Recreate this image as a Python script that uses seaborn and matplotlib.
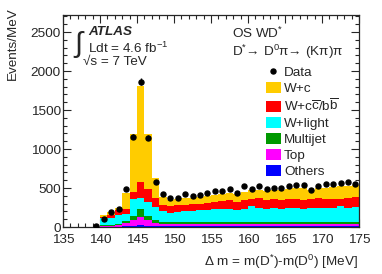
import numpy as np
import pandas as pd
import matplotlib
matplotlib.use("Agg")
import matplotlib.pyplot as plt
from matplotlib.patches import Patch
from matplotlib.lines import Line2D
import seaborn as sns

# bin edges: 1 MeV bins from 135 to 175
edges = list(range(135, 176))

# MC bins start at 140 MeV (140 ... 174)
mc_low = np.arange(140, 175, 1)

# stacked components (Events/MeV)
others   = [4, 5, 6, 10, 15, 26, 15, 12, 10, 10] + [10] * 25
top      = [11, 13, 16, 35, 75, 98, 75, 35, 28, 25] + [25] * 25
multijet = [10, 12, 18, 35, 51, 102, 51, 43, 30, 25] + [27] * 25
wlight   = [90, 90, 110, 85, 214, 141, 184, 171, 137, 124,
            135, 143, 147, 150, 156, 164, 163, 173, 158, 173,
            208, 183, 173, 188, 163, 188, 178, 173, 178, 183,
            178, 183, 208, 178, 198]
wccbb    = [13, 30, 65, 61, 98, 214, 158, 106, 77, 85,
            85, 80, 82, 83, 85, 99, 105, 105, 105, 115,
            90, 130, 115, 115, 120, 110, 115, 115, 115, 125,
            120, 120, 90, 130, 130]
wc       = [26, 47, 30, 206, 739, 1227, 709, 265, 107, 77,
            73, 82, 84, 85, 92, 85, 95, 100, 100, 105,
            110, 105, 110, 115, 125, 130, 145, 145, 125, 130,
            145, 150, 170, 155, 150]

# data points (139 ... 174)
data_low = np.arange(139, 175, 1)
data_val = [8, 100, 188, 227, 490, 1158, 1863, 1145, 581, 423, 368, 376, 419, 401, 410, 432,
            461, 466, 483, 440, 530, 487, 526, 483, 496, 496, 530, 543, 543, 474, 530, 551,
            551, 560, 577, 555]

names = ["W+c", r"W+c$\overline{\rm c}$/b$\overline{\rm b}$", "W+light", "Multijet", "Top", "Others"]
colors = ["#FFCC00", "#FF0000", "#00FFFF", "#009900", "#FF00FF", "#0000FF"]
comps = [wc, wccbb, wlight, multijet, top, others]

frames = []
for name, vals in zip(names, comps):
    frames.append(pd.DataFrame({"mass": mc_low + 0.5, "w": vals, "proc": name}))
df = pd.concat(frames, ignore_index=True)

sns.set_style("ticks")
plt.rcParams["font.family"] = ["Liberation Sans", "DejaVu Sans"]
plt.rcParams["mathtext.fontset"] = "custom"
plt.rcParams["mathtext.rm"] = "Liberation Sans"
plt.rcParams["mathtext.it"] = "Liberation Sans:italic"
plt.rcParams["mathtext.bf"] = "Liberation Sans:bold"

W, H = 382, 274
fig = plt.figure(figsize=(W / 100, H / 100), dpi=100)
ax = fig.add_axes([63 / W, 1 - 227 / H, 296 / W, 212 / H])

# stacked MC (first hue level ends up on top)
sns.histplot(data=df, x="mass", weights="w", hue="proc", hue_order=names,
             palette=dict(zip(names, colors)), bins=edges, multiple="stack",
             element="bars", fill=True, alpha=1, linewidth=0, legend=False, ax=ax)

dx = np.array(data_low) + 0.5
dv = np.array(data_val, dtype=float)
ax.errorbar(dx, dv, yerr=np.sqrt(dv), fmt="o", color="black", ms=3.6,
            elinewidth=1.0, capsize=0, zorder=5)

ax.set_xlim(135, 175)
ax.set_ylim(0, 2718)
ax.set_xticks(np.arange(135, 176, 5))
ax.set_xticks(np.arange(135, 176, 1), minor=True)
ax.set_yticks(np.arange(0, 2600, 500))
ax.set_yticks(np.arange(0, 2701, 100), minor=True)
ax.tick_params(which="both", direction="in", top=True, right=True, labelsize=9.7, width=0.8)
ax.tick_params(which="major", length=5.5)
ax.tick_params(which="minor", length=3)
ax.tick_params(axis="x", pad=5)
ax.tick_params(axis="y", pad=1.5)
for s in ax.spines.values():
    s.set_linewidth(0.9)
ax.set_xlabel("")
ax.set_ylabel("")

fs = 9.7
fig.text(358 / W, 1 - 262 / H, r"$\Delta$ m = m(D$^{*}$)-m(D$^{0}$) [MeV]",
         ha="right", va="center", fontsize=fs)
fig.text(13 / W, 1 - 7 / H, "Events/MeV", rotation=90, ha="center", va="top", fontsize=fs)

# ATLAS label
fig.text(88 / W, 1 - 32 / H, "ATLAS", fontsize=fs, fontweight="bold", style="italic",
         ha="left", va="center")
fig.text(74 / W, 1 - 44 / H, "\u222b", fontsize=21, ha="left", va="center")
fig.text(88 / W, 1 - 48 / H, r"Ldt = 4.6 fb$^{-1}$", fontsize=fs, ha="left", va="center")
fig.text(83 / W, 1 - 62 / H, "\u221as = 7 TeV", fontsize=fs, ha="left", va="center")

fig.text(232 / W, 1 - 33 / H, r"OS WD$^{*}$", fontsize=fs, ha="left", va="center")
fig.text(232 / W, 1 - 52 / H, "D$^{*}$\u2192 D$^{0}$\u03c0\u2192 (K\u03c0)\u03c0",
         fontsize=fs, ha="left", va="center")

handles = [Line2D([], [], marker="o", color="black", ls="none", ms=3.6)]
handles += [Patch(facecolor=c, edgecolor="none") for c in colors]
fig.legend(handles, ["Data"] + names, loc="upper left",
           bbox_to_anchor=(266 / W, 1 - 66 / H), frameon=False, fontsize=fs,
           borderpad=0, handlelength=1.1, handleheight=0.9, handletextpad=0.25,
           labelspacing=0.2, borderaxespad=0)

fig.savefig("out.png", dpi=100)
